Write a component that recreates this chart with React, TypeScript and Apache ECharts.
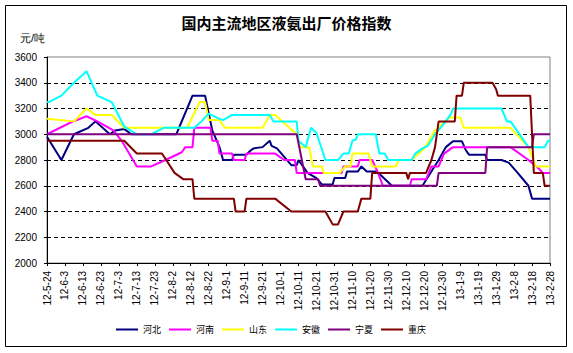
import React, { useEffect, useRef } from 'react';
import * as echarts from 'echarts';

const chartTitle = '国内主流地区液氨出厂价格指数';
const unitLabel = '元/吨';
const xLabels = ['12-5-24','12-6-3','12-6-13','12-6-23','12-7-3','12-7-13','12-7-23','12-8-2','12-8-12','12-8-22','12-9-1','12-9-11','12-9-21','12-10-1','12-10-11','12-10-21','12-10-31','12-11-10','12-11-20','12-11-30','12-12-10','12-12-20','12-12-30','13-1-9','13-1-19','13-1-29','13-2-8','13-2-18','13-2-28'];
const yTicks = [2000, 2200, 2400, 2600, 2800, 3000, 3200, 3400, 3600];
const seriesNames = ['河北', '河南', '山东', '安徽', '宁夏', '重庆'];
const seriesColors = ['#000080', '#FF00FF', '#FFFF00', '#00FFFF', '#800080', '#800000'];

// [day offset from 2012-05-24, price]
const hebei = [[0,2980],[8,2800],[15,3000],[23,3050],[27,3100],[35,3000],[38,3030],[43,3040],[47,3000],[72,3000],[81,3300],[88,3300],[92,3030],[96,2900],[98,2800],[103,2800],[104,2840],[111,2840],[113,2870],[115,2890],[120,2900],[124,2950],[125,2910],[128,2890],[136,2760],[139,2760],[140,2800],[142,2760],[145,2700],[150,2660],[153,2610],[159,2610],[160,2660],[166,2660],[167,2710],[173,2710],[175,2750],[178,2710],[183,2710],[186,2680],[192,2600],[209,2600],[218,2800],[222,2900],[226,2945],[231,2945],[233,2880],[235,2840],[244,2840],[245,2800],[253,2800],[257,2780],[262,2700],[268,2600],[270,2500],[280,2500]];
const henan = [[0,3000],[13,3090],[22,3140],[28,3100],[37,3030],[42,2940],[50,2750],[58,2750],[66,2800],[75,2860],[77,2900],[81,2900],[82,3050],[91,3050],[92,2950],[95,2950],[96,2850],[103,2850],[104,2800],[110,2800],[111,2850],[127,2850],[132,2800],[138,2800],[139,2700],[164,2700],[165,2750],[173,2750],[174,2800],[181,2800],[184,2710],[187,2600],[202,2600],[203,2650],[211,2650],[214,2750],[218,2750],[221,2850],[226,2900],[258,2900],[268,2800],[274,2730],[276,2700],[280,2700]];
const shandong = [[0,3120],[15,3100],[22,3200],[27,3150],[36,3150],[43,3050],[78,3050],[85,3250],[88,3250],[90,3110],[96,3110],[99,3050],[120,3050],[124,3150],[127,3150],[139,3000],[141,2900],[146,2900],[148,2750],[153,2750],[154,2700],[163,2700],[166,2750],[169,2750],[170,2850],[179,2850],[181,2750],[194,2750],[196,2800],[203,2800],[210,2890],[216,3030],[224,3130],[230,3130],[232,3050],[258,3050],[268,2900],[272,2750],[280,2750]];
const anhui = [[0,3250],[1,3250],[8,3300],[15,3400],[22,3490],[28,3300],[36,3250],[43,3060],[50,3000],[58,3000],[65,3050],[82,3050],[86,3100],[90,3160],[96,3120],[98,3110],[103,3150],[124,3150],[126,3100],[139,3100],[140,2950],[144,2900],[147,3050],[150,3010],[155,2800],[162,2800],[165,2850],[168,2850],[170,2950],[172,2960],[173,3000],[183,3000],[185,2850],[188,2850],[190,2800],[203,2800],[205,2850],[209,2890],[212,2910],[216,3000],[222,3100],[225,3160],[226,3200],[253,3200],[256,3100],[258,3100],[268,2900],[277,2900],[279,2950],[280,2950]];
const ningxia = [[0,3000],[139,3000],[144,2650],[151,2650],[152,2600],[217,2600],[218,2700],[244,2700],[245,2900],[270,2900],[271,3000],[280,3000]];
const chongqing = [[0,2950],[43,2950],[50,2850],[64,2850],[71,2700],[76,2650],[81,2650],[82,2500],[104,2500],[105,2400],[110,2400],[111,2500],[127,2500],[136,2400],[155,2400],[159,2300],[162,2300],[165,2400],[173,2400],[175,2500],[180,2500],[181,2700],[200,2700],[201,2650],[202,2700],[211,2700],[214,2800],[216,2900],[218,3100],[227,3100],[228,3300],[231,3300],[232,3400],[248,3400],[250,3350],[251,3300],[269,3300],[270,3000],[271,2700],[276,2700],[277,2600],[280,2600]];

const seriesData = [hebei, henan, shandong, anhui, ningxia, chongqing];

const FONT = "'Liberation Sans', 'Noto Sans CJK SC', sans-serif";
const CJK = "'Noto Sans CJK SC', sans-serif";

export default function App() {
  const ref = useRef<HTMLDivElement>(null);
  useEffect(() => {
    const chart = echarts.init(ref.current!, null, { renderer: 'svg' });
    chart.setOption({
      animation: false,
      backgroundColor: '#fff',
      textStyle: { fontFamily: FONT },
      title: {
        text: chartTitle,
        left: 'center',
        top: 15,
        padding: 0,
        textStyle: { fontSize: 15, fontWeight: 'bold', color: '#000', fontFamily: CJK },
      },
      legend: {
        data: seriesNames,
        left: 116,
        top: 325,
        padding: 0,
        icon: 'rect',
        itemWidth: 22,
        itemHeight: 2,
        itemGap: 8,
        textStyle: { fontSize: 9, color: '#000', fontFamily: CJK },
      },
      grid: {
        left: 47,
        top: 57,
        width: 503,
        height: 206,
        show: true,
        borderColor: '#808080',
        borderWidth: 1,
        backgroundColor: '#fff',
      },
      xAxis: {
        type: 'value',
        min: 0,
        max: (xLabels.length - 1) * 10,
        interval: 10,
        axisLine: { show: true, lineStyle: { color: '#000', width: 1 } },
        axisTick: { show: true, length: 3, lineStyle: { color: '#000' } },
        splitLine: { show: false },
        axisLabel: {
          rotate: 90,
          margin: 8,
          fontSize: 10,
          color: '#000',
          showMinLabel: true,
          showMaxLabel: true,
          formatter: (v: number) => xLabels[Math.round(v / 10)] ?? '',
        },
      },
      yAxis: {
        type: 'value',
        min: yTicks[0],
        max: yTicks[yTicks.length - 1],
        interval: 200,
        axisLine: { show: true, lineStyle: { color: '#000', width: 1 } },
        axisTick: { show: true, length: 3, lineStyle: { color: '#000' } },
        axisLabel: { margin: 10, fontSize: 10, color: '#000', formatter: (v: number) => String(v) },
        splitLine: {
          show: true,
          showMinLine: false,
          showMaxLine: false,
          lineStyle: { color: '#000', type: [4, 3], width: 1 },
        },
      },
      graphic: [
        {
          type: 'rect',
          shape: { x: 5.5, y: 5.5, width: 561, height: 341 },
          style: { fill: 'none', stroke: '#000', lineWidth: 1 },
          z: 100,
        },
        {
          type: 'text',
          left: 20,
          top: 32,
          style: { text: unitLabel, fontSize: 11, fill: '#000', font: `11px ${CJK}` },
        },
      ],
      series: seriesNames.map((name, i) => ({
        name,
        type: 'line',
        data: seriesData[i],
        symbol: 'none',
        showSymbol: false,
        lineStyle: { color: seriesColors[i], width: 2 },
        itemStyle: { color: seriesColors[i] },
      })),
    });
    return () => chart.dispose();
  }, []);
  return (
    <div
      ref={ref}
      style={{ position: 'fixed', left: 0, top: 0, width: 573, height: 353, background: '#fff' }}
    />
  );
}
